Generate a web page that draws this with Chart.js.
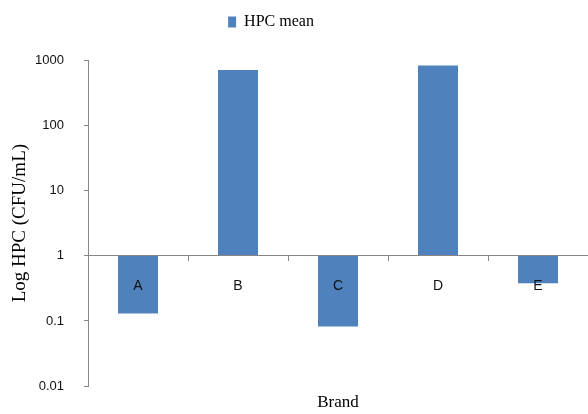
<!DOCTYPE html>
<html>
<head>
<meta charset="utf-8">
<script src="https://cdn.jsdelivr.net/npm/chart.js@4/dist/chart.umd.min.js"></script>
<style>
  html, body { margin: 0; padding: 0; background: #ffffff; }
  #wrap { width: 588px; height: 414px; }
</style>
</head>
<body>
<div id="wrap"><canvas id="c" width="588" height="414"></canvas></div>
<script>
const categories = ['A', 'B', 'C', 'D', 'E'];
const hpcMean = [0.13, 705, 0.082, 820, 0.38];
const baseValue = 1;
const yTicks = [0.01, 0.1, 1, 10, 100, 1000];
const seriesName = 'HPC mean';
const xTitle = 'Brand';
const yTitle = 'Log HPC (CFU/mL)';

const axisColor = '#868686';
const barColor = '#4F81BD';

const legendSpacer = {
  id: 'legendSpacer',
  beforeInit(chart) {
    const orig = chart.legend.fit;
    chart.legend.fit = function () {
      orig.call(this);
      this.height += 20;
    };
  },
  afterLayout(chart) {
    chart.legend.left -= 23;
    chart.legend.right -= 23;
  }
};

new Chart(document.getElementById('c'), {
  type: 'bar',
  data: {
    labels: categories,
    datasets: [{
      label: seriesName,
      data: hpcMean.map(v => [baseValue, v]),
      backgroundColor: barColor,
      borderWidth: 0,
      barPercentage: 0.4,
      categoryPercentage: 1.0
    }]
  },
  options: {
    responsive: false,
    animation: false,
    devicePixelRatio: 1,
    layout: { padding: { left: 0, right: 0, top: 4, bottom: 0 } },
    plugins: {
      legend: {
        display: true,
        position: 'top',
        labels: {
          boxWidth: 8,
          boxHeight: 11,
          padding: 10,
          color: '#000',
          font: { family: '"Liberation Serif", "Times New Roman", serif', size: 16 }
        }
      },
      tooltip: { enabled: false }
    },
    scales: {
      x: {
        type: 'category',
        position: { y: baseValue },
        offset: true,
        grid: {
          display: true,
          offset: true,
          drawOnChartArea: false,
          drawTicks: true,
          tickLength: 5,
          color: axisColor
        },
        border: { display: true, color: axisColor, width: 1, z: 1 },
        ticks: {
          z: 1,
          padding: 17,
          color: '#111',
          font: { family: '"Liberation Sans", Arial, sans-serif', size: 14 }
        },
        title: { display: false }
      },
      x2: {
        type: 'category',
        position: 'bottom',
        labels: categories,
        grid: { display: false, drawTicks: false },
        border: { display: false },
        ticks: { display: false },
        title: {
          display: true,
          text: xTitle,
          color: '#000',
          padding: { top: 6, bottom: 0 },
          font: { family: '"Liberation Serif", "Times New Roman", serif', size: 17 }
        }
      },
      y: {
        type: 'logarithmic',
        position: 'left',
        min: 0.01,
        max: 1000,
        afterBuildTicks(scale) {
          scale.ticks = yTicks.map(v => ({ value: v, major: true }));
        },
        afterFit(scale) {
          scale.width = 88;
        },
        grid: {
          display: true,
          drawOnChartArea: false,
          drawTicks: true,
          tickLength: 4,
          color: axisColor
        },
        border: { display: true, color: axisColor, width: 1 },
        ticks: {
          padding: 20,
          color: '#111',
          font: { family: '"Liberation Sans", Arial, sans-serif', size: 13 },
          callback(value) {
            return yTicks.includes(value) ? String(value) : '';
          }
        },
        title: {
          display: true,
          text: yTitle,
          color: '#000',
          padding: { top: 9, bottom: 0 },
          font: { family: '"Liberation Serif", "Times New Roman", serif', size: 19 }
        }
      }
    }
  },
  plugins: [legendSpacer]
});
</script>
</body>
</html>
